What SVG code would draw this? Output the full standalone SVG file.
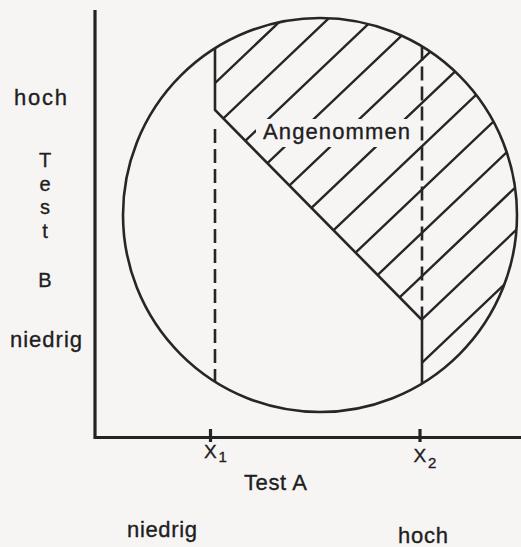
<svg xmlns="http://www.w3.org/2000/svg" width="521" height="547" viewBox="0 0 521 547">
  <defs>
    <style>
      .ln { fill: none; stroke: #262626; stroke-width: 2.6; stroke-linecap: butt; }
      .ax { fill: none; stroke: #232323; stroke-width: 3.2; }
      .dash { fill: none; stroke: #262626; stroke-width: 2.6; stroke-dasharray: 14 6; }
      .hatch { fill: none; stroke: #262626; stroke-width: 2.4; }
      .t { font-family: "Liberation Sans", Arial, sans-serif; fill: #1e1e1e; stroke: #1e1e1e; stroke-width: 0.35; font-size: 22px; }
      .v { font-size: 20px; }
    </style>
    <clipPath id="accepted">
      <path d="M215,48.31 L215,110 L422,320 L422,383.54 A197,197 0 1 0 215,48.31 Z"/>
    </clipPath>
  </defs>

  <rect x="0" y="0" width="521" height="547" fill="#f7f4f4"/>

  <g id="hatch-region">
    <path class="hatch" clip-path="url(#accepted)" d="
      M200,97.3 L521,-207.65
      M200,140.6 L521,-164.35
      M200,183.9 L521,-121.05
      M200,227.2 L521,-77.75
      M200,270.5 L521,-34.45
      M200,313.8 L521,8.85
      M200,357.1 L521,52.15
      M200,400.4 L521,95.45
      M200,443.7 L521,138.75
      M200,487 L521,182.05
      M200,530.3 L521,225.35
      M200,573.6 L521,268.65"/>
    <rect x="256" y="119" width="160" height="28" fill="#f7f4f4"/>
  </g>

  <g id="circle">
    <circle class="ln" cx="320" cy="215" r="197"/>
  </g>

  <g id="boundaries">
    <path class="ln" d="M215,48.31 L215,110 L422,320 L422,383.54"/>
    <line class="dash" x1="215" y1="129" x2="215" y2="381.7"/>
    <line class="dash" x1="422" y1="46.5" x2="422" y2="319"/>
  </g>

  <g id="axes">
    <path class="ax" d="M95,10 L95,437.5 L521,437.5"/>
    <line class="ax" x1="210.5" y1="429" x2="210.5" y2="442"/>
    <line class="ax" x1="420" y1="429" x2="420" y2="442"/>
  </g>

  <g id="labels">
    <text class="t" x="263" y="139" textLength="147" lengthAdjust="spacing">Angenommen</text>
    <text class="t" x="14" y="104.5" textLength="53" lengthAdjust="spacing">hoch</text>
    <g text-anchor="middle">
      <text class="t v" x="45" y="167">T</text>
      <text class="t v" x="45" y="191">e</text>
      <text class="t v" x="45" y="214">s</text>
      <text class="t v" x="45" y="238">t</text>
      <text class="t v" x="45" y="287">B</text>
    </g>
    <text class="t" x="10" y="346.5" textLength="72" lengthAdjust="spacing">niedrig</text>
    <text class="t" x="204" y="458.3" style="font-size:19px">X</text>
    <text class="t" x="218.5" y="462" style="font-size:15px">1</text>
    <text class="t" x="413.5" y="461.7" style="font-size:19px">X</text>
    <text class="t" x="428" y="468.3" style="font-size:15px">2</text>
    <text class="t" x="244" y="490" textLength="63" lengthAdjust="spacing">Test A</text>
    <text class="t" x="127" y="537" textLength="70" lengthAdjust="spacing">niedrig</text>
    <text class="t" x="398" y="543" textLength="50" lengthAdjust="spacing">hoch</text>
  </g>
</svg>
